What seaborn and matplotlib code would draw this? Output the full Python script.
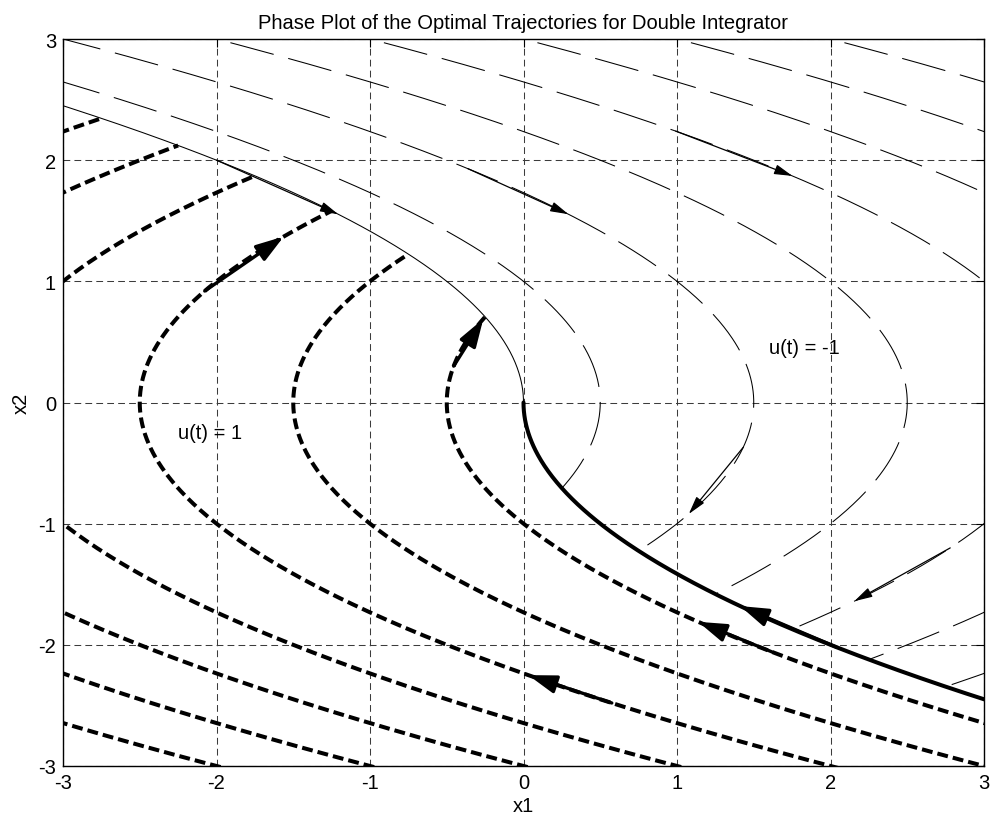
import numpy as np
import pandas as pd
import matplotlib
matplotlib.use("Agg")
import matplotlib.pyplot as plt
import seaborn as sns

# Trajectory offsets: x1 = +x2^2/2 + c under u = +1, x1 = -x2^2/2 + c under u = -1
c_plus = [-0.5, -1.5, -2.5, -3.5, -4.5, -5.5, -6.5]
c_minus = [0.5, 1.5, 2.5, 3.5, 4.5, 5.5, 6.5]

# Direction arrows along u = +1 trajectories (c, x2 at tail, x2 at head)
plus_arrow_c = [-2.5, -0.5, -2.5, -0.5, 0.0]
plus_arrow_tail = [0.92, 0.30, -2.48, -2.06, -2.02]
plus_arrow_head = [1.37, 0.69, -2.25, -1.81, -1.68]

# Direction arrows along u = -1 trajectories
minus_arrow_c = [0.0, 1.5, 3.5, 1.5, 3.5]
minus_arrow_tail = [2.00, 1.93, 2.24, -0.37, -1.20]
minus_arrow_head = [1.554, 1.554, 1.87, -0.92, -1.64]

ticks = [-3, -2, -1, 0, 1, 2, 3]
region_labels = ["u(t) = 1", "u(t) = -1"]
region_label_x = [-2.25, 1.6]
region_label_y = [-0.25, 0.45]

TITLE = "Phase Plot of the Optimal Trajectories for Double Integrator"


def x1_plus(x2, c):
    return np.asarray(x2) ** 2 / 2 + c


def x1_minus(x2, c):
    return -np.asarray(x2) ** 2 / 2 + c


def plus_family(cs):
    rows = []
    for c in cs:
        x2 = np.linspace(-3.6, np.sqrt(-c), 400)
        rows.append(pd.DataFrame({"x1": x1_plus(x2, c), "x2": x2, "curve": c}))
    return pd.concat(rows, ignore_index=True)


def minus_family(cs):
    rows = []
    for c in cs:
        x2 = np.linspace(3.6, -np.sqrt(c), 400)
        rows.append(pd.DataFrame({"x1": x1_minus(x2, c), "x2": x2, "curve": c}))
    return pd.concat(rows, ignore_index=True)


df_plus = plus_family(c_plus)
df_minus = minus_family(c_minus)

# Switching curve x1 = -x2|x2|/2
s_up = np.linspace(0, 2.6, 300)
df_switch_up = pd.DataFrame({"x1": x1_minus(s_up, 0.0), "x2": s_up})
s_dn = np.linspace(0, -2.7, 300)
df_switch_dn = pd.DataFrame({"x1": x1_plus(s_dn, 0.0), "x2": s_dn})

sns.set_theme(style="white")
plt.rcParams["font.family"] = ["Liberation Sans", "DejaVu Sans"]
plt.rcParams["text.color"] = "black"
plt.rcParams["axes.labelcolor"] = "black"
plt.rcParams["xtick.color"] = "black"
plt.rcParams["ytick.color"] = "black"

FS = 14.5

fig = plt.figure(figsize=(9.93, 8.20), dpi=100)
ax = fig.add_axes([63 / 993, 1 - 767 / 820, (984 - 63) / 993, (767 - 40) / 820])

LW_THICK = 2.9
LW_THIN = 0.75

sns.lineplot(data=df_plus, x="x1", y="x2", units="curve", estimator=None,
             sort=False, color="black", linewidth=LW_THICK,
             linestyle=(0, (2.7, 1.25)), dash_capstyle="butt",
             legend=False, ax=ax, zorder=3)
sns.lineplot(data=df_minus, x="x1", y="x2", units="curve", estimator=None,
             sort=False, color="black", linewidth=LW_THIN,
             linestyle=(0, (43, 14.5)), legend=False, ax=ax, zorder=3)
sns.lineplot(data=df_switch_up, x="x1", y="x2", sort=False, color="black",
             linewidth=LW_THIN, legend=False, ax=ax, zorder=3)
sns.lineplot(data=df_switch_dn, x="x1", y="x2", sort=False, color="black",
             linewidth=LW_THICK, legend=False, ax=ax, zorder=3)

for c, t, h in zip(plus_arrow_c, plus_arrow_tail, plus_arrow_head):
    ax.annotate("", xy=(x1_plus(h, c), h), xytext=(x1_plus(t, c), t),
                arrowprops=dict(arrowstyle="-|>,head_length=1.7,head_width=0.55",
                                color="black", lw=2.4, shrinkA=0, shrinkB=0,
                                mutation_scale=10),
                zorder=5)

for c, t, h in zip(minus_arrow_c, minus_arrow_tail, minus_arrow_head):
    ax.annotate("", xy=(x1_minus(h, c), h), xytext=(x1_minus(t, c), t),
                arrowprops=dict(arrowstyle="-|>,head_length=1.1,head_width=0.3",
                                color="black", lw=0.9, shrinkA=0, shrinkB=0,
                                mutation_scale=10),
                zorder=5)

for txt, tx, ty in zip(region_labels, region_label_x, region_label_y):
    ax.text(tx, ty, txt, fontsize=FS, ha="left", va="center", zorder=6)

ax.set_xlim(ticks[0], ticks[-1])
ax.set_ylim(ticks[0], ticks[-1])
ax.set_xticks(ticks)
ax.set_yticks(ticks)
ax.set_xticklabels([str(t) for t in ticks])
ax.set_yticklabels([str(t) for t in ticks])
ax.tick_params(direction="in", length=6, width=0.8, top=True, right=True,
               labelsize=FS, pad=5, colors="black")
ax.grid(True, color="#3c3c3c", linewidth=0.75, linestyle=(0, (6.5, 4)))
ax.set_axisbelow(True)
for sp in ax.spines.values():
    sp.set_visible(True)
    sp.set_color("black")
    sp.set_linewidth(1.0)
    sp.set_zorder(7)

ax.set_xlabel("x1", fontsize=FS, labelpad=3)
ax.set_ylabel("x2", fontsize=FS, labelpad=5)
ax.set_title(TITLE, fontsize=FS, pad=8)

fig.savefig("out.png", dpi=100, facecolor="white")
